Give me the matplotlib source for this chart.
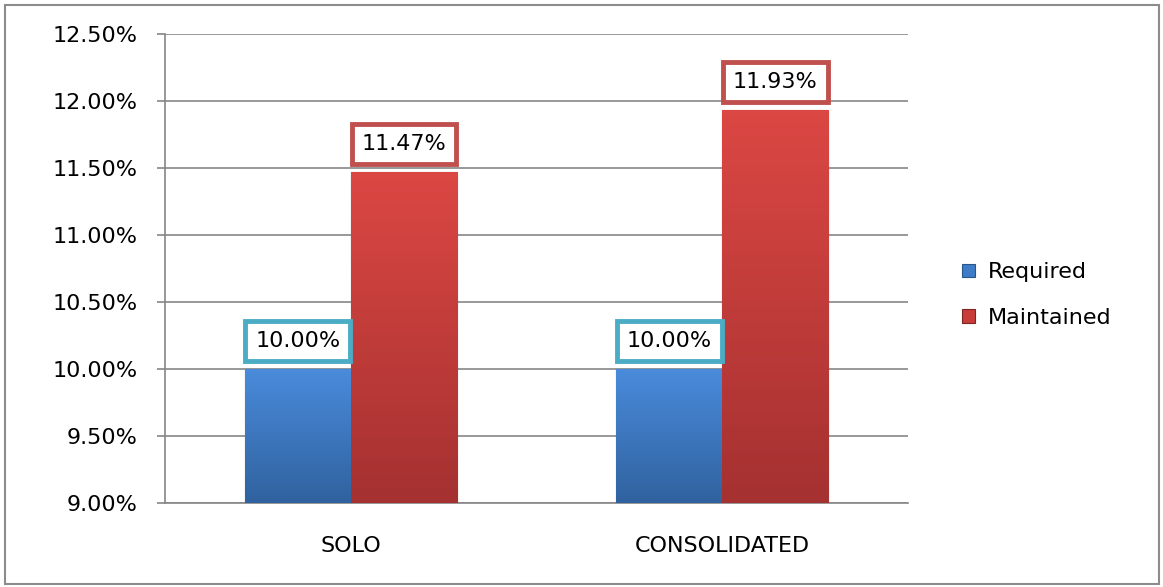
import numpy as np
import matplotlib.pyplot as plt
from matplotlib.colors import LinearSegmentedColormap
from matplotlib.patches import Rectangle

# Chart data
categories = ['SOLO', 'CONSOLIDATED']
series_names = ['Required', 'Maintained']
required = [10.00, 10.00]
maintained = [11.47, 11.93]
y_ticks = [9.0, 9.5, 10.0, 10.5, 11.0, 11.5, 12.0, 12.5]

bar_colors = ['#3F7CC8', '#C83D3A']
grad_colors = [('#4A8BDB', '#30629F'), ('#DB4743', '#A53131')]
edge_colors = ['#2A5587', '#7E2523']
box_colors = ['#4BACC6', '#C0504D']

plt.rcParams['font.family'] = 'DejaVu Sans'
fs = 16

fig = plt.figure(figsize=(11.63, 5.87), dpi=100)
ax = fig.add_axes([0.1419, 0.1431, 0.7807 - 0.1419, 0.9421 - 0.1431])

# outer chart frame
fig.patches.append(Rectangle((5 / 1163, 3 / 587), 1154 / 1163, 579 / 587,
                             transform=fig.transFigure, fill=False,
                             edgecolor='#8C8C8C', linewidth=1.5))

x = np.arange(len(categories))
w = 0.286
gx = np.linspace(0, 1, 64).reshape(-1, 1)

for i, vals in enumerate([required, maintained]):
    offs = (i - 0.5) * w
    bars = ax.bar(x + offs, np.array(vals) - 9.0, width=w, bottom=9.0,
                  color=bar_colors[i], edgecolor=edge_colors[i], linewidth=0.8,
                  label=series_names[i], zorder=3)
    cmap = LinearSegmentedColormap.from_list('g%d' % i, list(grad_colors[i]))
    for b, v in zip(bars, vals):
        x0 = b.get_x()
        im = ax.imshow(gx, cmap=cmap, aspect='auto', origin='upper',
                       extent=(x0, x0 + w, 9.0, v), zorder=3.5)
        im.set_clip_path(b)
        ax.annotate(f'{v:.2f}%', (x0 + w / 2, v), xytext=(0, 28),
                    textcoords='offset pixels', ha='center', va='center',
                    fontsize=fs, zorder=5,
                    bbox=dict(boxstyle='square,pad=0.45', fc='white',
                              ec=box_colors[i], lw=3.5))

ax.set_xlim(-0.5, 1.5)
ax.set_ylim(9.0, 12.5)
ax.set_yticks(y_ticks)
ax.set_yticklabels([f'{t:.2f}%' for t in y_ticks], fontsize=fs)
ax.set_xticks(x)
ax.set_xticklabels(categories, fontsize=fs)
ax.tick_params(axis='y', direction='out', length=6, width=1.2,
               color='#868686', pad=14)
ax.tick_params(axis='x', length=0, pad=24)
ax.grid(axis='y', color='#868686', linewidth=1.2, zorder=0)
ax.set_axisbelow(True)
for s in ['top', 'right']:
    ax.spines[s].set_visible(False)
for s in ['left', 'bottom']:
    ax.spines[s].set_color('#868686')
    ax.spines[s].set_linewidth(1.2)

fig.legend(loc='center left', bbox_to_anchor=(0.818, 0.497), frameon=False,
           fontsize=fs, handlelength=0.55, handleheight=0.55,
           handletextpad=0.6, labelspacing=1.15, borderpad=0)

plt.savefig('out.png', dpi=100)
